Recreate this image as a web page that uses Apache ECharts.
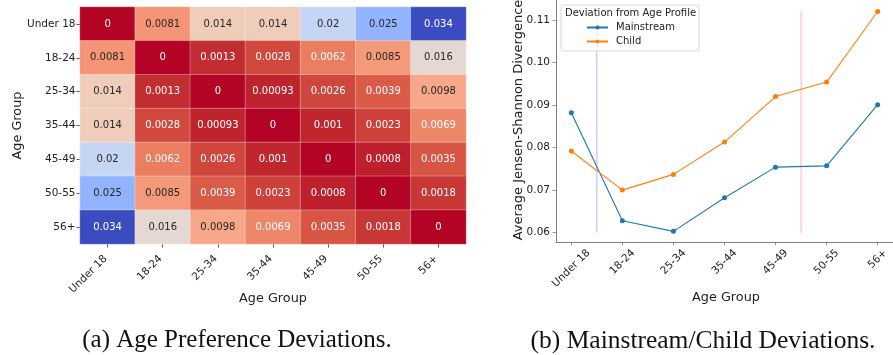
<!DOCTYPE html>
<html>
<head>
<meta charset="utf-8">
<script src="https://cdn.jsdelivr.net/npm/echarts@6/dist/echarts.min.js"></script>
<style>
html,body{margin:0;padding:0;background:#fff;}
#chart{width:893px;height:355px;}
</style>
</head>
<body>
<div id="chart"></div>
<script>
// ---------------- data ----------------
const categories = ['Under 18', '18-24', '25-34', '35-44', '45-49', '50-55', '56+'];
const rowUnder18 = [0, 0.0081, 0.014, 0.014, 0.02, 0.025, 0.034];
const row18_24   = [0.0081, 0, 0.0013, 0.0028, 0.0062, 0.0085, 0.016];
const row25_34   = [0.014, 0.0013, 0, 0.00093, 0.0026, 0.0039, 0.0098];
const row35_44   = [0.014, 0.0028, 0.00093, 0, 0.001, 0.0023, 0.0069];
const row45_49   = [0.02, 0.0062, 0.0026, 0.001, 0, 0.0008, 0.0035];
const row50_55   = [0.025, 0.0085, 0.0039, 0.0023, 0.0008, 0, 0.0018];
const row56plus  = [0.034, 0.016, 0.0098, 0.0069, 0.0035, 0.0018, 0];
const mainstream = [0.0882, 0.0628, 0.0603, 0.0682, 0.0754, 0.0757, 0.0901];
const child      = [0.0792, 0.0700, 0.0737, 0.0813, 0.0920, 0.0954, 0.1120];
const yTicks = [0.06, 0.07, 0.08, 0.09, 0.10, 0.11];
const dividerX = [0.5, 4.5];
const dividerRange = [0.06, 0.112];
const noteText = ['Child', 'Mainstream'];
const noteX = [0.2, 2.7];
const noteY = [0.096, 0.096];
const heatMin = 0, heatMax = 0.034;

// ---------------- colormap (matplotlib coolwarm, reversed) ----------------
const cwR = [0.2298,0.2662,0.3039,0.3428,0.3830,0.4244,0.4667,0.5096,0.5530,0.5963,0.6392,0.6813,0.7222,0.7615,0.7987,0.8335,0.8654,0.8978,0.9241,0.9445,0.9589,0.9673,0.9700,0.9668,0.9580,0.9437,0.9239,0.8990,0.8692,0.8346,0.7956,0.7525,0.7057];
const cwG = [0.2987,0.3531,0.4065,0.4588,0.5094,0.5581,0.6046,0.6483,0.6889,0.7261,0.7596,0.7890,0.8140,0.8343,0.8498,0.8602,0.8654,0.8489,0.8274,0.8009,0.7698,0.7341,0.6943,0.6504,0.6028,0.5518,0.4973,0.4396,0.3783,0.3129,0.2413,0.1572,0.0156];
const cwB = [0.7537,0.8015,0.8450,0.8837,0.9174,0.9456,0.9682,0.9848,0.9954,0.9998,0.9982,0.9904,0.9766,0.9569,0.9317,0.9011,0.8654,0.8209,0.7745,0.7267,0.6780,0.6288,0.5794,0.5303,0.4818,0.4342,0.3880,0.3432,0.3003,0.2593,0.2205,0.1841,0.1502];
function toHex(x){ const s = Math.round(x * 255).toString(16); return s.length < 2 ? '0' + s : s; }
const cmapStops = cwR.map((r, i) => '#' + toHex(r) + toHex(cwG[i]) + toHex(cwB[i])).reverse();

function hex2rgb(h){ return [parseInt(h.slice(1,3),16), parseInt(h.slice(3,5),16), parseInt(h.slice(5,7),16)]; }
function cmapColor(v){
  let t = (v - heatMin) / (heatMax - heatMin);
  t = Math.max(0, Math.min(1, t));
  const n = cmapStops.length - 1;
  const k = Math.min(n - 1, Math.floor(t * n));
  const f = t * n - k;
  const a = hex2rgb(cmapStops[k]), b = hex2rgb(cmapStops[k+1]);
  return a.map((x, i) => x + (b[i] - x) * f);
}
function luminance(rgb){
  const c = rgb.map(x => { x /= 255; return x <= 0.03928 ? x / 12.92 : Math.pow((x + 0.055) / 1.055, 2.4); });
  return 0.2126 * c[0] + 0.7152 * c[1] + 0.0722 * c[2];
}
function fmt2g(v){ return v === 0 ? '0' : String(parseFloat(v.toPrecision(2))); }

const matrix = [rowUnder18, row18_24, row25_34, row35_44, row45_49, row50_55, row56plus];
const heatData = [];
matrix.forEach((row, r) => row.forEach((v, c) => {
  heatData.push({
    value: [c, r, v],
    label: { color: luminance(cmapColor(v)) > 0.408 ? '#262626' : '#ffffff' }
  });
}));

const FONT = 'DejaVu Sans';
const tickFont = 10.5;
const ctx = document.createElement('canvas').getContext('2d');
ctx.font = tickFont + 'px "' + FONT + '"';
const richCentered = {};
categories.forEach((c, i) => {
  const w = ctx.measureText(c).width;
  const p = (w + 12) / 2;
  richCentered['r' + i] = { padding: [p, p, 0, 0], fontSize: tickFont, fontFamily: FONT, color: '#222' };
});
const tickIdx = categories.map((c, i) => i);

const dividerColors = ['rgba(0,0,255,0.3)', 'rgba(255,0,0,0.3)'];

// ---------------- chart ----------------
const chart = echarts.init(document.getElementById('chart'), null, { renderer: 'canvas' });
const dividerSeries = dividerX.map((x, i) => ({
  name: 'divider' + i, type: 'line', xAxisIndex: 1, yAxisIndex: 1, z: 1,
  data: [[x, dividerRange[0]], [x, dividerRange[1]]],
  symbol: 'none', silent: true, emphasis: { disabled: true },
  lineStyle: { color: dividerColors[i], width: 1 }
}));

const option = {
  animation: false,
  backgroundColor: '#ffffff',
  textStyle: { fontFamily: FONT },
  grid: [
    { left: 80, top: 7, width: 386, height: 237 },
    { left: 556, top: -1.5, width: 341, height: 243.5 }
  ],
  xAxis: [
    {
      type: 'category', gridIndex: 0, data: categories,
      axisLine: { show: false },
      axisTick: { show: true, alignWithLabel: true, length: 3.5, lineStyle: { color: '#333', width: 0.8 } },
      axisLabel: { rotate: 45, margin: 11, padding: [0, 3, 6, 0], fontSize: tickFont, color: '#222', fontFamily: FONT, interval: 0 },
      splitLine: { show: false }
    },
    {
      type: 'value', gridIndex: 1, min: -0.3, max: 6.3,
      axisLine: { show: true, onZero: false, lineStyle: { color: '#808080', width: 1 } },
      axisTick: { show: true, length: 3.5, customValues: tickIdx, lineStyle: { color: '#808080', width: 0.8 } },
      axisLabel: {
        customValues: tickIdx, rotate: 45, align: 'center', verticalAlign: 'middle', margin: 5,
        fontSize: tickFont, color: '#222', fontFamily: FONT,
        formatter: v => { const i = Math.round(v); return '{r' + i + '|' + categories[i] + '}'; },
        rich: richCentered
      },
      splitLine: { show: false }
    }
  ],
  yAxis: [
    {
      type: 'category', gridIndex: 0, data: categories, inverse: true,
      axisLine: { show: false },
      axisTick: { show: true, alignWithLabel: true, length: 3.5, lineStyle: { color: '#333', width: 0.8 } },
      axisLabel: { margin: 4.5, fontSize: tickFont, color: '#222', fontFamily: FONT, interval: 0 },
      splitLine: { show: false }
    },
    {
      type: 'value', gridIndex: 1, min: 0.0578, max: 0.1147,
      axisLine: { show: true, onZero: false, lineStyle: { color: '#808080', width: 1 } },
      axisTick: { show: true, length: 3.5, customValues: yTicks, lineStyle: { color: '#808080', width: 0.8 } },
      axisLabel: { customValues: yTicks, margin: 6, fontSize: tickFont, color: '#222', fontFamily: FONT, formatter: v => v.toFixed(2) },
      splitLine: { show: false }
    }
  ],
  visualMap: {
    show: false, type: 'continuous', seriesIndex: 0, dimension: 2,
    min: heatMin, max: heatMax, inRange: { color: cmapStops }
  },
  legend: {
    data: ['Mainstream', 'Child'],
    orient: 'vertical', left: 586, top: 22.5, padding: 0, itemGap: 4,
    itemWidth: 21, itemHeight: 5,
    textStyle: { fontSize: 10, color: '#222', fontFamily: FONT, padding: [0, 0, 0, 3] },
    z: 6
  },
  series: [
    {
      type: 'heatmap', xAxisIndex: 0, yAxisIndex: 0, data: heatData,
      itemStyle: { borderColor: 'rgba(255,255,255,0.6)', borderWidth: 0.5 },
      label: { show: true, fontSize: 10, fontFamily: FONT, formatter: p => fmt2g(p.value[2]) },
      emphasis: { disabled: true }, silent: true
    },
    ...dividerSeries,
    {
      name: 'Mainstream', type: 'line', xAxisIndex: 1, yAxisIndex: 1,
      data: mainstream.map((v, i) => [i, v]),
      symbol: 'circle', symbolSize: 5, showSymbol: true,
      lineStyle: { color: '#1f77b4', width: 1.1 }, itemStyle: { color: '#1f77b4' },
      emphasis: { disabled: true }, silent: true
    },
    {
      name: 'Child', type: 'line', xAxisIndex: 1, yAxisIndex: 1,
      data: child.map((v, i) => [i, v]),
      symbol: 'circle', symbolSize: 5, showSymbol: true,
      lineStyle: { color: '#ff7f0e', width: 1.1 }, itemStyle: { color: '#ff7f0e' },
      emphasis: { disabled: true }, silent: true
    },
    {
      name: 'notes', type: 'scatter', xAxisIndex: 1, yAxisIndex: 1,
      symbolSize: 1, itemStyle: { opacity: 0 }, silent: true,
      data: noteText.map((t, i) => ({
        value: [noteX[i], noteY[i]],
        label: { show: true, position: 'inside', formatter: t, fontSize: 8.8, fontFamily: FONT,
                 color: i === 0 ? '#2323ff' : '#ff2a2a' }
      }))
    }
  ],
  graphic: [
    { type: 'rect', z: 3, shape: { x: 561, y: 5, width: 138, height: 46, r: 3 },
      style: { fill: 'rgba(255,255,255,0.8)', stroke: '#d6d6d6', lineWidth: 1 } },
    { type: 'text', z: 7, x: 565, y: 13.5,
      style: { text: 'Deviation from Age Profile', font: '10px "DejaVu Sans"', fill: '#222', textVerticalAlign: 'middle' } },
    { type: 'text', z: 7, x: 273, y: 298.5,
      style: { text: 'Age Group', font: '12.8px "DejaVu Sans"', fill: '#222', textAlign: 'center', textVerticalAlign: 'middle' } },
    { type: 'text', z: 7, x: 18, y: 125.5, rotation: Math.PI / 2,
      style: { text: 'Age Group', font: '12.8px "DejaVu Sans"', fill: '#222', textAlign: 'center', textVerticalAlign: 'middle' } },
    { type: 'text', z: 7, x: 726, y: 298,
      style: { text: 'Age Group', font: '12.8px "DejaVu Sans"', fill: '#222', textAlign: 'center', textVerticalAlign: 'middle' } },
    { type: 'text', z: 7, x: 519, y: 120, rotation: Math.PI / 2,
      style: { text: 'Average Jensen-Shannon Divergence', font: '13px "DejaVu Sans"', fill: '#222', textAlign: 'center', textVerticalAlign: 'middle' } },
    { type: 'text', z: 7, x: 237, y: 340,
      style: { text: '(a) Age Preference Deviations.', font: '25px "Liberation Serif"', fill: '#111', textAlign: 'center', textVerticalAlign: 'middle' } },
    { type: 'text', z: 7, x: 703, y: 341.5,
      style: { text: '(b) Mainstream/Child Deviations.', font: '25.5px "Liberation Serif"', fill: '#111', textAlign: 'center', textVerticalAlign: 'middle' } }
  ]
};
chart.setOption(option);
</script>
</body>
</html>
